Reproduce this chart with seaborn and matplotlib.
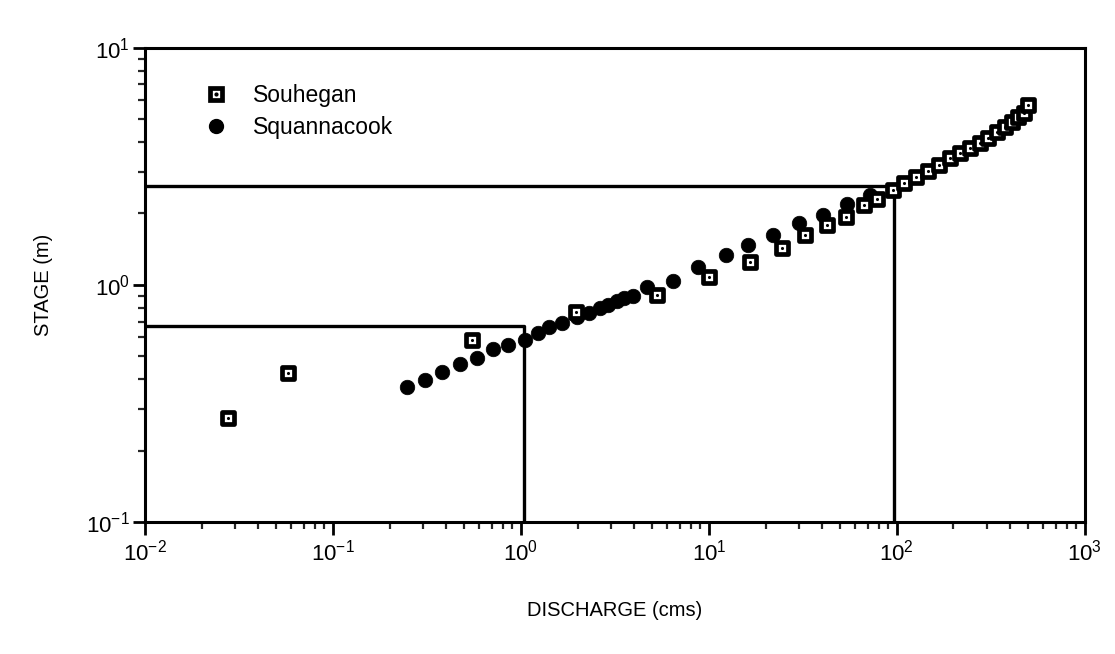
import numpy as np
import pandas as pd
import matplotlib
matplotlib.use("Agg")
import matplotlib.pyplot as plt
import seaborn as sns
from matplotlib.lines import Line2D

# --- data ---
souhegan_q = [0.0276, 0.0577, 0.548, 1.96, 5.28, 10.0, 16.5, 24.4, 32.4, 42.5, 53.6, 66.7, 78.3, 95.2,
              109, 127, 146, 167, 191, 216, 244, 276, 306, 340, 374, 410, 441, 476, 500]
souhegan_h = [0.275, 0.425, 0.586, 0.769, 0.907, 1.08, 1.25, 1.43, 1.63, 1.79, 1.94, 2.18, 2.31, 2.52,
              2.69, 2.86, 3.03, 3.21, 3.44, 3.61, 3.78, 3.97, 4.17, 4.42, 4.64, 4.88, 5.12, 5.32, 5.75]

squann_q = [0.248, 0.308, 0.380, 0.474, 0.583, 0.709, 0.853, 1.05, 1.23, 1.41, 1.65, 1.99, 2.30, 2.63,
            2.90, 3.24, 3.53, 3.94, 4.68, 6.44, 8.74, 12.3, 16.1, 21.9, 30.1, 40.4, 54.2, 71.8, 95.2]
squann_h = [0.371, 0.397, 0.430, 0.464, 0.492, 0.537, 0.558, 0.586, 0.627, 0.665, 0.691, 0.733, 0.762,
            0.800, 0.824, 0.856, 0.882, 0.899, 0.981, 1.04, 1.19, 1.33, 1.47, 1.63, 1.83, 1.97, 2.20,
            2.40, 2.52]

ref1_q = [0.01, 1.04, 1.04]
ref1_h = [0.671, 0.671, 0.1]
ref2_q = [0.01, 97, 97]
ref2_h = [2.62, 2.62, 0.1]

series_names = ["Souhegan", "Squannacook"]
x_label = "DISCHARGE (cms)"
y_label = "STAGE (m)"

sns.set_style("ticks")
plt.rcParams['font.family'] = ['Liberation Sans', 'DejaVu Sans']
plt.rcParams['mathtext.fontset'] = 'custom'
plt.rcParams['mathtext.rm'] = 'Liberation Sans'
plt.rcParams['text.color'] = 'black'
plt.rcParams['axes.labelcolor'] = 'black'

fig = plt.figure(figsize=(11.15, 6.54), dpi=100)
ax = fig.add_axes([0.130, 0.202, 0.843, 0.725])

df_s = pd.DataFrame({"q": souhegan_q, "h": souhegan_h})
df_q = pd.DataFrame({"q": squann_q, "h": squann_h})

ax.plot(ref1_q, ref1_h, color="black", lw=2.4, zorder=1)
ax.plot(ref2_q, ref2_h, color="black", lw=2.4, zorder=1)

sns.scatterplot(data=df_q, x="q", y="h", ax=ax, marker="o", s=110, color="black",
                edgecolor="black", linewidth=0.5, zorder=3)
sns.scatterplot(data=df_s, x="q", y="h", ax=ax, marker="s", s=65, color="white",
                edgecolor="black", linewidth=3.4, zorder=4)
sns.scatterplot(data=df_s, x="q", y="h", ax=ax, marker="o", s=5, color="black",
                edgecolor="black", linewidth=0, zorder=5)

ax.set_xscale("log")
ax.set_yscale("log")
ax.set_xlim(0.01, 1000)
ax.set_ylim(0.1, 10)

for sp in ax.spines.values():
    sp.set_visible(True)
    sp.set_linewidth(2.2)
    sp.set_color("black")

ax.tick_params(which="major", direction="out", length=9, width=2.0, labelsize=16, colors="black")
ax.tick_params(which="minor", direction="out", length=5, width=1.6)
ax.tick_params(axis="y", which="major", pad=2)
ax.tick_params(top=False, right=False, which="both")

ax.set_xlabel(x_label, fontsize=14.5, labelpad=26)
ax.set_ylabel(y_label, fontsize=14.5, labelpad=24)

h_sq = Line2D([], [], marker="s", linestyle="none", markersize=8, markerfacecolor="white",
              markeredgecolor="black", markeredgewidth=3.4)
h_dot = Line2D([], [], marker="o", linestyle="none", markersize=2, color="black")
h_ci = Line2D([], [], marker="o", linestyle="none", markersize=10, color="black")
leg = ax.legend([(h_sq, h_dot), h_ci], series_names, loc="upper left",
                bbox_to_anchor=(0.035, 0.968), frameon=False, fontsize=16.5,
                handletextpad=0.9, labelspacing=0.4, handlelength=1.5)

fig.savefig("out.png", dpi=100)
